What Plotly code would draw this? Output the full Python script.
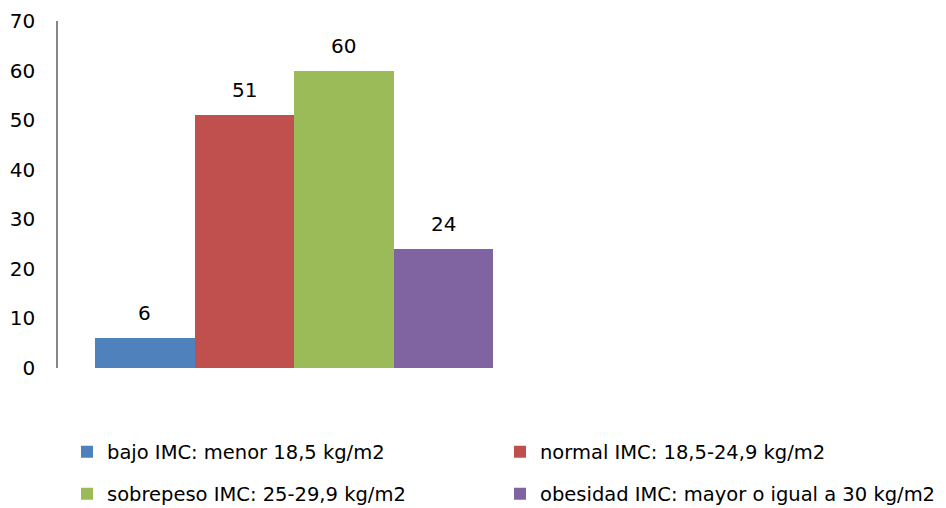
import plotly.graph_objects as go

series_names = [
    "bajo IMC: menor 18,5 kg/m2",
    "normal IMC: 18,5-24,9 kg/m2",
    "sobrepeso IMC: 25-29,9 kg/m2",
    "obesidad IMC: mayor o igual a 30 kg/m2",
]
values = [6, 51, 60, 24]
colors = ["#4F81BD", "#C0504D", "#9BBB59", "#8064A2"]
legend_ids = ["legend", "legend2", "legend3", "legend4"]
y_ticks = [0, 10, 20, 30, 40, 50, 60, 70]

FONT = "DejaVu Sans"
FS = 20
LFS = 19.5
W, H = 946, 508

fig = go.Figure()
for name, v, c, lg in zip(series_names, values, colors, legend_ids):
    fig.add_trace(go.Bar(
        x=[name], y=[v], name=name, marker=dict(color=c, line=dict(width=0)),
        legend=lg, hoverinfo="y",
    ))
    fig.add_annotation(
        x=name, y=v, text=str(v), showarrow=False, yanchor="middle", yshift=25,
        font=dict(family=FONT, size=FS, color="#000000"),
    )

legend_common = dict(
    orientation="h", xref="container", yref="container",
    xanchor="left", yanchor="middle",
    font=dict(family=FONT, size=LFS, color="#000000"),
    itemwidth=30, bgcolor="rgba(0,0,0,0)",
)
col_x = [67 / W, 500 / W]
row_y = [1 - 452 / H, 1 - 494 / H]

fig.update_layout(
    width=W, height=H,
    margin=dict(l=58, r=6, t=21, b=140, autoexpand=False),
    paper_bgcolor="white", plot_bgcolor="white",
    barmode="relative", bargap=0,
    font=dict(family=FONT, size=FS, color="#000000"),
    xaxis=dict(
        type="category", categoryorder="array", categoryarray=series_names,
        range=[-0.872, 7.99], showticklabels=False, showgrid=False,
        zeroline=False, showline=False, ticks="", automargin=False,
    ),
    yaxis=dict(
        range=[0, 70], tickvals=y_ticks, showgrid=False, zeroline=False,
        showline=True, linecolor="#868686", linewidth=1.5, ticks="",
        ticklabelstandoff=17, automargin=False,
        tickfont=dict(family=FONT, size=FS, color="#000000"),
    ),
    legend=dict(legend_common, x=col_x[0], y=row_y[0]),
    legend2=dict(legend_common, x=col_x[1], y=row_y[0]),
    legend3=dict(legend_common, x=col_x[0], y=row_y[1]),
    legend4=dict(legend_common, x=col_x[1], y=row_y[1]),
    showlegend=True,
)

fig.write_html(
    "out.html",
    config={"displayModeBar": False},
    post_script="document.body.style.margin='0';document.body.style.padding='0';",
)
